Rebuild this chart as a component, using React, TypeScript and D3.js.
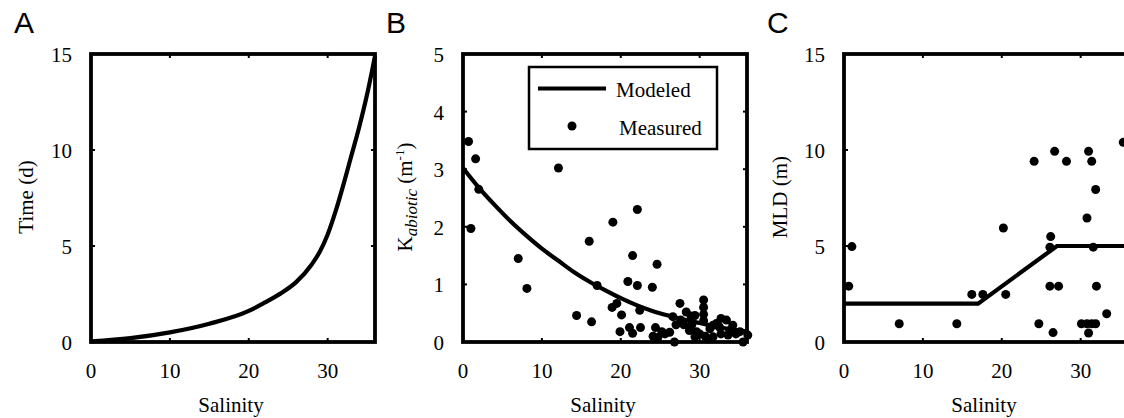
import React from 'react';
import * as d3 from 'd3';

// Panel A: modeled time vs salinity
const salinityA = [0, 5, 10, 15, 20, 22, 24, 26, 28, 29, 30, 31, 32, 33, 34, 35, 36];
const timeA = [0.03, 0.2, 0.5, 0.95, 1.62, 2.05, 2.52, 3.12, 4.05, 4.7, 5.6, 6.8, 8.2, 9.7, 11.2, 12.9, 14.9];

// Panel B: modeled K_abiotic
const salinityBModel = [0, 2, 4, 6, 8, 10, 12, 14, 16, 18, 20, 22, 24, 26, 28, 30, 32, 34, 36];
const kBModel = [3.02, 2.68, 2.38, 2.1, 1.85, 1.62, 1.42, 1.22, 1.05, 0.9, 0.76, 0.64, 0.54, 0.46, 0.39, 0.33, 0.27, 0.22, 0.18];

// Panel B: measured K_abiotic
const salinityBMeas = [0.7, 1.6, 2.0, 1.0, 12.1, 7.0, 8.1, 14.4, 16.0, 16.3, 17.0, 19.0, 18.9, 19.5, 20.1, 19.9, 20.9, 21.1, 21.5, 21.5, 22.1, 22.1, 22.4, 22.5, 24.0, 24.6, 24.4, 24.1, 24.7,
  25.2, 25.6, 26.2, 26.6, 26.8, 27.0, 27.5, 27.6, 28.3, 28.7, 28.9, 29.4, 29.4, 29.6, 30.0, 30.5, 30.5, 30.5, 30.5, 30.7, 31.1, 31.3, 31.7, 31.7, 32.1, 32.5, 32.7, 32.7, 33.4, 33.6, 33.8, 34.2, 34.6, 35.1, 35.5, 36.1, 28.0, 29.0];
const kBMeas = [3.48, 3.18, 2.65, 1.97, 3.02, 1.45, 0.93, 0.46, 1.75, 0.35, 0.98, 2.08, 0.6, 0.67, 0.47, 0.18, 1.05, 0.25, 1.5, 0.15, 2.3, 0.98, 0.55, 0.25, 0.95, 1.35, 0.25, 0.1, 0.08,
  0.18, 0.14, 0.17, 0.44, 0.0, 0.3, 0.67, 0.38, 0.52, 0.2, 0.45, 0.46, 0.09, 0.18, 0.14, 0.73, 0.6, 0.48, 0.37, 0.1, 0.05, 0.23, 0.29, 0.09, 0.32, 0.26, 0.41, 0.14, 0.38, 0.12, 0.2, 0.29, 0.14, 0.18, 0.0, 0.12, 0.3, 0.3];

// Panel C: modeled MLD
const salinityCModel = [0, 17, 27, 36];
const mldCModel = [2, 2, 5, 5];

// Panel C: measured MLD
const salinityCMeas = [1.0, 0.6, 7.0, 14.3, 16.2, 17.6, 20.5, 20.2, 24.1, 24.7, 26.2, 26.1, 26.1, 27.2, 26.7, 26.5, 28.2, 30.8, 31.0, 31.4, 31.9, 31.6, 32.0, 30.1, 30.8, 31.4, 31.9, 31.0, 33.3, 35.4];
const mldCMeas = [4.97, 2.91, 0.95, 0.95, 2.48, 2.48, 2.48, 5.94, 9.41, 0.95, 5.49, 4.94, 2.91, 2.91, 9.93, 0.49, 9.41, 6.46, 9.93, 9.41, 7.94, 4.94, 2.91, 0.95, 0.95, 0.95, 0.95, 0.47, 1.47, 10.4];

const xTicks = [0, 10, 20, 30];
const yTicksA = [0, 5, 10, 15];
const yTicksB = [0, 1, 2, 3, 4, 5];
const yTicksC = [0, 5, 10, 15];

const TOP = 54;
const BOTTOM = 342;
const PW = 284;
const SERIF = 'Liberation Serif, Tinos, DejaVu Serif, Times New Roman, serif';
const SANS = 'Liberation Sans, Arimo, Arial, sans-serif';
const FS = 21;
const R = 4.5;

const serifStyle: React.CSSProperties = { fontFamily: SERIF, fontSize: FS };

type PanelProps = {
  left: number;
  letter: string;
  yMax: number;
  yTicks: number[];
  yLabel: React.ReactNode;
  yLabelX: number;
  children: (x: d3.ScaleLinear<number, number>, y: d3.ScaleLinear<number, number>) => React.ReactNode;
};

function Panel({ left, letter, yMax, yTicks, yLabel, yLabelX, children }: PanelProps) {
  const x = d3.scaleLinear().domain([0, 36]).range([left, left + PW]);
  const y = d3.scaleLinear().domain([0, yMax]).range([BOTTOM, TOP]);
  const tl = 4;
  return (
    <g>
      <text x={left - 77} y={33} style={{ fontFamily: SANS, fontSize: 30 }}>{letter}</text>
      {children(x, y)}
      <rect x={left} y={TOP} width={PW} height={BOTTOM - TOP} fill="none" stroke="#000" strokeWidth={3.8} />
      {xTicks.map((t) => (
        <g key={'xt' + t}>
          <line x1={x(t)} x2={x(t)} y1={BOTTOM} y2={BOTTOM - tl} stroke="#000" strokeWidth={2} />
          <line x1={x(t)} x2={x(t)} y1={TOP} y2={TOP + tl} stroke="#000" strokeWidth={2} />
          <text x={x(t)} y={377.5} textAnchor="middle" style={serifStyle}>{t}</text>
        </g>
      ))}
      {yTicks.map((t) => (
        <g key={'yt' + t}>
          <line x1={left} x2={left + tl} y1={y(t)} y2={y(t)} stroke="#000" strokeWidth={2} />
          <line x1={left + PW} x2={left + PW - tl} y1={y(t)} y2={y(t)} stroke="#000" strokeWidth={2} />
          <text x={left - 19} y={y(t) + 8} textAnchor="end" style={serifStyle}>{t}</text>
        </g>
      ))}
      <text x={left + PW / 2 - 2} y={411.5} textAnchor="middle" style={serifStyle}>Salinity</text>
      <text transform={`translate(${yLabelX},197) rotate(-90)`} textAnchor="middle" style={serifStyle}>{yLabel}</text>
    </g>
  );
}

export default function App() {
  const lineGen = (x: d3.ScaleLinear<number, number>, y: d3.ScaleLinear<number, number>, curve: d3.CurveFactory) =>
    d3.line<[number, number]>().x((d) => x(d[0])).y((d) => y(d[1])).curve(curve);

  const dataA = salinityA.map((s, i) => [s, timeA[i]] as [number, number]);
  const dataBModel = salinityBModel.map((s, i) => [s, kBModel[i]] as [number, number]);
  const dataCModel = salinityCModel.map((s, i) => [s, mldCModel[i]] as [number, number]);

  return (
    <svg width={1124} height={418} style={{ position: 'absolute', left: 0, top: 0, background: '#fff' }}>
      <rect width={1124} height={418} fill="#fff" />
      <Panel left={91} letter="A" yMax={15} yTicks={yTicksA} yLabel="Time (d)" yLabelX={33}>
        {(x, y) => (
          <path d={lineGen(x, y, d3.curveMonotoneX)(dataA) || ''} fill="none" stroke="#000" strokeWidth={4.2} />
        )}
      </Panel>
      <Panel
        left={463}
        letter="B"
        yMax={5}
        yTicks={yTicksB}
        yLabelX={412}
        yLabel={
          <>
            <tspan>K</tspan>
            <tspan fontStyle="italic" style={{ fontSize: 17 }} dy={5}>abiotic</tspan>
            <tspan dy={-5}> (m</tspan>
            <tspan style={{ fontSize: 13 }} dy={-8}>-1</tspan>
            <tspan dy={8}>)</tspan>
          </>
        }
      >
        {(x, y) => (
          <g>
            <path d={lineGen(x, y, d3.curveMonotoneX)(dataBModel) || ''} fill="none" stroke="#000" strokeWidth={4.2} />
            {salinityBMeas.map((s, i) => (
              <circle key={i} cx={x(s)} cy={y(kBMeas[i])} r={R} fill="#000" />
            ))}
            <rect x={529} y={67} width={188} height={82} fill="#fff" stroke="#000" strokeWidth={2.5} />
            <line x1={538} x2={606} y1={88.5} y2={88.5} stroke="#000" strokeWidth={4.2} />
            <text x={616} y={97} style={serifStyle}>Modeled</text>
            <circle cx={572} cy={126} r={R} fill="#000" />
            <text x={619} y={135} style={serifStyle}>Measured</text>
          </g>
        )}
      </Panel>
      <Panel left={844} letter="C" yMax={15} yTicks={yTicksC} yLabel="MLD (m)" yLabelX={787}>
        {(x, y) => (
          <g>
            <path d={lineGen(x, y, d3.curveLinear)(dataCModel) || ''} fill="none" stroke="#000" strokeWidth={4.2} />
            {salinityCMeas.map((s, i) => (
              <circle key={i} cx={x(s)} cy={y(mldCMeas[i])} r={R} fill="#000" />
            ))}
          </g>
        )}
      </Panel>
    </svg>
  );
}
